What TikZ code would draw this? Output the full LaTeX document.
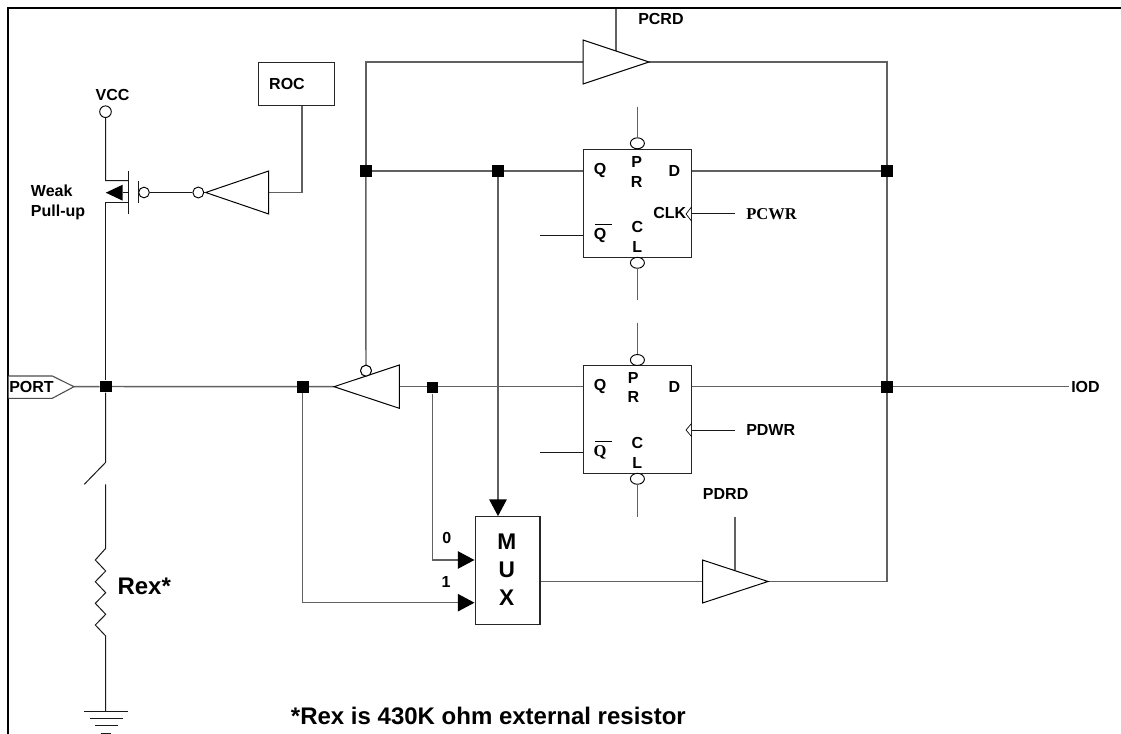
\documentclass[tikz,border=0pt]{standalone}
\usepackage{fontspec}
\setmainfont{Liberation Sans}
\newfontfamily\serifbf{Liberation Serif}
\usetikzlibrary{arrows.meta,shapes.geometric,backgrounds}
\tikzset{
  x=0.75pt,y=-0.75pt,
  wire/.style={draw=black!62,line width=1.1pt,line join=miter},
  thinwire/.style={draw=black!90,line width=0.75pt},
  frameline/.style={draw=black,line width=1.6pt},
  lbl/.style={inner sep=0pt,font=\fontsize{12}{14}\selectfont\bfseries},
  biglbl/.style={inner sep=0pt,font=\fontsize{18}{21}\selectfont\bfseries},
  junction/.style={fill=black,draw=none,minimum size=8.7pt,inner sep=0pt,shape=rectangle},
  bubble/.style={circle,draw=black,fill=white,line width=0.7pt,minimum size=8.2pt,inner sep=0pt},
  flatbubble/.style={ellipse,draw=black,fill=white,line width=0.7pt,minimum width=10.5pt,minimum height=8.2pt,inner sep=0pt},
  box/.style={draw=black!85,fill=white,line width=0.8pt,inner sep=0pt},
  gate/.style={draw=black,fill=white,line width=0.75pt,line join=miter},
  solidtip/.style={-{Triangle[length=12.5pt,width=13pt,color=black]}},
}
\begin{document}
\begin{tikzpicture}
\useasboundingbox (0,0) rectangle (1121,734);
% frame
\coordinate (fa) at (7.8,734); \coordinate (fb) at (7.8,8); \coordinate (fc) at (1121,8);
\draw[frameline] (fa) -- (fb) -- (fc);
% key points
\coordinate (pcrdIn) at (583,62);
\coordinate (pcrdOut) at (649,62);
\coordinate (topR) at (886.8,62);
\coordinate (botR) at (886.8,581.5);
\coordinate (pdrdIn) at (702.5,581.5);
\coordinate (pdrdOut) at (768,581.5);
\coordinate (iodEnd) at (1069,386.7);
\coordinate (inv2tip) at (334,386.7);
\coordinate (inv2back) at (399.3,386.7);
\coordinate (inv1tip) at (205.7,192.5);
\coordinate (inv1back) at (268.7,192.5);
\coordinate (rocTurn) at (302,192.5);
\coordinate (porttip) at (74,386.7);
% junctions
\node[junction] (jport) at (105.7,386.5) {};
\node[junction] (jp2) at (302.7,387) {};
\node[junction] (jp3) at (432.3,387.5) {};
\node[junction] (jt1) at (365.8,171) {};
\node[junction] (jt2) at (498,171) {};
\node[junction] (jr1) at (886.8,171) {};
\node[junction] (jr2) at (886.8,386.7) {};
% boxes
\node[box,minimum width=81.2pt,minimum height=81pt] (ff1) at (637.5,203.3) {};
\node[box,minimum width=81.2pt,minimum height=81pt] (ff2) at (637.5,419.2) {};
\node[box,minimum width=48.7pt,minimum height=81.2pt] (mux) at (507.5,570.8) {};
\node[box,minimum width=57pt,minimum height=32.2pt] (roc) at (296.3,84.2) {};
% bubbles
\node[bubble] (b2) at (366,370.7) {};
\node[flatbubble] (pr1) at (637.4,143.3) {};
\node[flatbubble] (cl1) at (637.4,262.8) {};
\node[flatbubble] (pr2) at (637.4,360) {};
\node[flatbubble] (cl2) at (637.4,478.8) {};
\node[bubble,minimum size=8.7pt] (vcc) at (105.5,111.7) {};
\node[bubble,minimum size=8pt] (gbub) at (144,192.5) {};
\node[bubble,minimum size=8.2pt] (b1) at (198.3,192.5) {};
% wires lie behind junctions, gates and boxes
\begin{pgfonlayer}{background}
\draw[wire] (jt1) |- (pcrdIn);
\draw[wire] (pcrdOut) -- (topR) -- (botR) -- (pdrdOut);
\draw[wire] (jt1) -- (ff1.west |- jt1);
\draw[wire] (ff1.east |- jr1) -- (jr1);
\draw[wire] (ff2.east |- jr2) -- (iodEnd);
\draw[wire] (inv2back) -- (ff2.west |- inv2back);
\draw[wire] (jport) -- (inv2tip);
\draw[wire] (porttip) -- (jport);
\coordinate (muxOutY) at (0,581.5);
\draw[wire] (mux.east |- muxOutY) -- (pdrdIn);
\coordinate (pcrdStub) at (616,8);
\coordinate (pcrdFoot) at (616,51);
\draw[wire] (pcrdStub) -- (pcrdFoot);
\coordinate (pdrdStub) at (735,516.7);
\coordinate (pdrdFoot) at (735,570);
\draw[wire] (pdrdStub) -- (pdrdFoot);
\coordinate (mux0y) at (0,560);
\coordinate (mux1y) at (0,602.7);
\draw[wire,solidtip] (jt2) -- (mux.north -| jt2);
\draw[wire,solidtip] (jp3) |- (mux.west |- mux0y);
\draw[wire,solidtip] (jp2) |- (mux.west |- mux1y);
\draw[wire] (b2) -- (jt1);
\coordinate (pr1s) at (637.4,106.7); \coordinate (cl1s) at (637.4,300);
\coordinate (pr2s) at (637.4,322.7); \coordinate (cl2s) at (637.4,516.7);
\draw[wire] (pr1s) -- (pr1); \draw[wire] (cl1) -- (cl1s);
\draw[wire] (pr2s) -- (pr2); \draw[wire] (cl2) -- (cl2s);
\coordinate (qb1) at (540,235.7); \coordinate (qb2) at (540,452);
\draw[thinwire] (qb1) -- (ff1.west |- qb1);
\draw[thinwire] (qb2) -- (ff2.west |- qb2);
\coordinate (ck1) at (735,214); \coordinate (ck2) at (735,430);
\draw[thinwire] (ck1) -- (ff1.east |- ck1);
\draw[thinwire] (ck2) -- (ff2.east |- ck2);
\draw[wire] (inv1back) -- (rocTurn) -- (roc.south -| rocTurn);
\end{pgfonlayer}
% buffers
\draw[gate] (583,40) -- (pcrdOut) -- (583,84) -- cycle;
\draw[gate] (702.5,560) -- (pdrdOut) -- (702.5,603) -- cycle;
\draw[gate] (268.7,171) -- (inv1tip) -- (268.7,214) -- cycle;
\draw[gate] (399.3,365) -- (inv2tip) -- (399.3,408.3) -- cycle;
\node[bubble] (b2top) at (b2) {};
% clock chevrons
\coordinate (ck1a) at (691.5,207); \coordinate (ck1t) at (686,214); \coordinate (ck1b) at (691.5,221);
\draw[line width=0.5pt] (ck1a) -- (ck1t) -- (ck1b);
\coordinate (ck2a) at (691.5,423.5); \coordinate (ck2t) at (686,430); \coordinate (ck2b) at (691.5,436.5);
\draw[line width=0.5pt] (ck2a) -- (ck2t) -- (ck2b);
% MOSFET and supply
\coordinate (mosD) at (105.7,180.7);
\coordinate (mosDr) at (128,180.7);
\coordinate (mosS) at (105.7,203);
\coordinate (mosSr) at (128,203);
\draw[thinwire] (vcc) -- (mosD) -- (mosDr);
\draw[thinwire] (mosSr) -- (mosS) -- (jport);
\coordinate (gb) at (128,171.5); \coordinate (gt) at (128,214);
\draw[thinwire] (gb) -- (gt);
\coordinate (gg1) at (138.7,181.5); \coordinate (gg2) at (138.7,203);
\draw[thinwire] (gg1) -- (gg2);
\coordinate (arrBase) at (122.5,192.7);
\draw[thinwire] (arrBase) -- (gb |- arrBase);
\fill[black] (105.8,192.7) -- (122.7,184.7) -- (122.7,200.7) -- cycle;
\draw[thinwire] (gbub) -- (b1);
\draw[thinwire] (b1) -- (inv1tip);
% port flag
\draw[draw=black!70,line width=0.8pt,fill=white] (8.5,376) -- (52.3,376) -- (porttip) -- (52.3,398.3) -- (8.5,398.3);
% switch, resistor, ground
\coordinate (swTop) at (105.7,462.3);
\coordinate (swEnd) at (84.3,484.3);
\coordinate (swLow) at (105.7,484.3);
\coordinate (gndTop) at (105.7,711);
\draw[thinwire] (jport) -- (swTop) -- (swEnd);
\draw[thinwire,line join=miter] (swLow) -- (105.7,548.3) -- (95.3,560) -- (105.7,571) -- (95.3,581.7) -- (105.7,592.7) -- (95.3,603.3) -- (105.7,614.3) -- (95.3,625) -- (105.7,636) -- (gndTop);
\draw[thinwire] (84.3,711) -- (127.7,711);
\draw[thinwire] (90,718.3) -- (122.7,718.3);
\draw[thinwire] (95.3,725.3) -- (117.7,725.3);
\draw[thinwire] (100.7,733) -- (111,733);
% labels
\node[lbl] (lvcc) at (112.5,94.5) {VCC};
\node[lbl] (lroc) at (287,84) {ROC};
\node[lbl,anchor=west] (lweak) at (30.7,191) {Weak};
\node[lbl,anchor=west] (lpull) at (30.7,212) {Pull-up};
\node[lbl,anchor=west] (lport) at (9,386.7) {PORT};
\node[lbl,anchor=west] (lpcrd) at (638,18.5) {PCRD};
\node[lbl,anchor=west] (liod) at (1071,386.7) {IOD};
\node[lbl,anchor=west] (lpdwr) at (746,430) {PDWR};
\node[lbl,anchor=west] (lpdrd) at (702.7,494) {PDRD};
\node[lbl,anchor=west,font=\fontsize{12.4}{14}\selectfont\serifbf\bfseries] (lpcwr) at (746,214) {PCWR};
\node[lbl] (l0) at (446.7,538.3) {0};
\node[lbl] (l1) at (446,581.7) {1};
\node[inner sep=0pt,align=center,font=\fontsize{17}{21}\selectfont\bfseries] (lmux) at (506.7,569.5) {M\\U\\X};
\node[biglbl,anchor=west] (lrex) at (117.3,586) {Rex*};
\node[biglbl,anchor=west] (lnote) at (290.7,716) {*Rex is 430K ohm external resistor};
% flip-flop 1 labels
\node[lbl] (q1) at (600,170.7) {Q};
\node[lbl] (qn1) at (600,235) {Q};
\coordinate (ov1a) at (595,224.3); \coordinate (ov1b) at (611.7,224.3);
\draw[line width=0.6pt] (ov1a) -- (ov1b);
\node[lbl] (p1) at (636.7,162.3) {P};
\node[lbl] (r1) at (636.7,181.7) {R};
\node[lbl] (d1) at (674.3,170.7) {D};
\node[lbl] (c1) at (637.3,227.3) {C};
\node[lbl] (el1) at (637.3,246.7) {L};
\node[lbl] (clk1) at (669.7,213.3) {CLK};
% flip-flop 2 labels
\node[lbl] (q2) at (600,386.7) {Q};
\node[lbl,font=\fontsize{12.4}{14}\selectfont\serifbf\bfseries] (qn2) at (600,452.3) {Q};
\coordinate (ov2a) at (595,441); \coordinate (ov2b) at (611.7,441);
\draw[line width=0.6pt] (ov2a) -- (ov2b);
\node[lbl] (p2) at (633.3,378.3) {P};
\node[lbl] (r2) at (633.3,397.3) {R};
\node[lbl] (d2) at (674.3,386.7) {D};
\node[lbl] (c2) at (637.3,443.3) {C};
\node[lbl] (el2) at (637.3,463.3) {L};
\end{tikzpicture}
\end{document}
